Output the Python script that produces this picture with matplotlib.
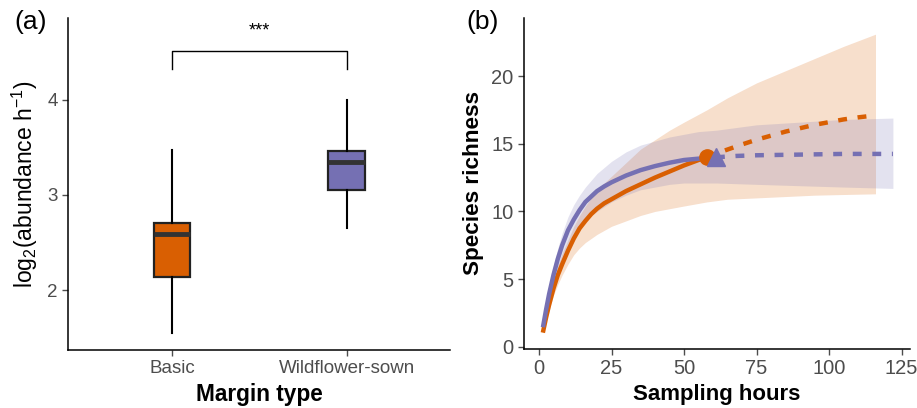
import numpy as np
import matplotlib
matplotlib.use('Agg')
import matplotlib.pyplot as plt

plt.rcParams['font.family'] = ['Liberation Sans', 'DejaVu Sans']
plt.rcParams['mathtext.fontset'] = 'custom'
plt.rcParams['mathtext.rm'] = 'Liberation Sans'
plt.rcParams['mathtext.it'] = 'Liberation Sans:italic'

# panel (a): box plot summaries
margin_types = ['Basic', 'Wildflower-sown']
box_low = [1.55, 2.65]
box_q1 = [2.14, 3.05]
box_med = [2.59, 3.35]
box_q3 = [2.70, 3.46]
box_high = [3.47, 4.00]
box_colors = ['#D95F02', '#7570B3']
sig_label = '***'

# panel (b): rarefaction / extrapolation curves
basic_obs_x = [1.5, 2.5, 3.5, 5, 6.5, 8, 10, 12, 14, 16, 18, 20, 22.5, 25, 27.5, 30, 35, 40, 45, 50, 55, 57.8]
basic_obs_y = [1.2, 2.2, 3.1, 4.3, 5.3, 6.1, 7.1, 8.0, 8.75, 9.3, 9.8, 10.2, 10.6, 10.9, 11.2, 11.5, 12.0, 12.5, 12.95, 13.4, 13.8, 14.0]
basic_ext_x = [57.8, 62, 66, 70, 75, 80, 85, 90, 95, 100, 105, 110, 116]
basic_ext_y = [14.0, 14.35, 14.65, 14.95, 15.3, 15.6, 15.9, 16.15, 16.4, 16.6, 16.8, 16.95, 17.1]
basic_ci_x = [1.5, 2.5, 3.5, 5, 6.5, 8, 10, 12, 14, 16, 18, 20, 25, 30, 35, 40, 45, 50, 57.8, 65, 75, 85, 95, 105, 116]
basic_ci_lo = [1.0, 1.9, 2.7, 3.8, 4.6, 5.3, 6.1, 6.8, 7.3, 7.7, 8.0, 8.3, 8.9, 9.3, 9.7, 10.0, 10.2, 10.4, 10.7, 10.9, 11.0, 11.1, 11.2, 11.25, 11.3]
basic_ci_hi = [1.5, 2.6, 3.6, 4.9, 6.0, 6.9, 7.9, 8.9, 9.7, 10.4, 11.0, 11.6, 12.6, 13.6, 14.6, 15.3, 16.0, 16.6, 17.5, 18.4, 19.5, 20.4, 21.3, 22.2, 23.1]

wild_obs_x = [1.5, 2.5, 3.5, 5, 6.5, 8, 10, 12, 14, 16, 18, 20, 22.5, 25, 27.5, 30, 35, 40, 45, 50, 55, 61]
wild_obs_y = [1.6, 2.8, 3.9, 5.3, 6.5, 7.5, 8.6, 9.4, 10.1, 10.7, 11.1, 11.5, 11.85, 12.15, 12.4, 12.65, 13.05, 13.35, 13.6, 13.8, 13.9, 14.0]
wild_ext_x = [61, 68, 75, 90, 105, 122]
wild_ext_y = [14.0, 14.1, 14.15, 14.2, 14.25, 14.25]
wild_ci_x = [1.5, 2.5, 3.5, 5, 6.5, 8, 10, 12, 14, 16, 18, 20, 25, 30, 35, 40, 45, 50, 55, 61, 75, 90, 105, 122]
wild_ci_lo = [1.2, 2.3, 3.3, 4.5, 5.6, 6.5, 7.4, 8.1, 8.7, 9.3, 9.7, 10.0, 10.7, 11.2, 11.6, 11.8, 12.0, 12.1, 12.1, 12.1, 12.0, 11.9, 11.8, 11.7]
wild_ci_hi = [2.0, 3.3, 4.5, 6.0, 7.3, 8.4, 9.6, 10.5, 11.2, 11.8, 12.3, 12.8, 13.7, 14.4, 14.9, 15.2, 15.5, 15.7, 15.9, 16.0, 16.4, 16.6, 16.8, 16.9]

orange = '#D95F02'
purple = '#7570B3'
tick_col = '#4D4D4D'

fig = plt.figure(figsize=(9.17, 4.08), dpi=100)
ax1 = fig.add_axes([0.0742, 0.142, 0.4165, 0.814])
ax2 = fig.add_axes([0.5714, 0.1446, 0.421, 0.8114])

for ax in (ax1, ax2):
    ax.spines['top'].set_visible(False)
    ax.spines['right'].set_visible(False)
    ax.spines['left'].set_linewidth(1.1)
    ax.spines['bottom'].set_linewidth(1.1)
    ax.tick_params(colors=tick_col, labelcolor=tick_col, length=4, width=1)
ax1.tick_params(labelsize=13.5)
ax2.tick_params(labelsize=14.5)

# ---- (a)
stats = []
for i in range(2):
    stats.append({'med': box_med[i], 'q1': box_q1[i], 'q3': box_q3[i],
                  'whislo': box_low[i], 'whishi': box_high[i], 'fliers': []})
bp = ax1.bxp(stats, positions=[1, 2], widths=0.21, patch_artist=True, showcaps=False,
             boxprops=dict(edgecolor='#222222', linewidth=1.6),
             whiskerprops=dict(color='black', linewidth=1.5),
             medianprops=dict(color='#333333', linewidth=3.5))
for patch, c in zip(bp['boxes'], box_colors):
    patch.set_facecolor(c)

ax1.plot([1, 1, 2, 2], [4.32, 4.51, 4.51, 4.32], color='black', linewidth=1)
ax1.text(1.5, 4.72, sig_label, ha='center', va='center', fontsize=13)

ax1.set_xlim(0.406, 2.59)
ax1.set_ylim(1.37, 4.86)
ax1.set_xticks([1, 2])
ax1.set_xticklabels(margin_types)
ax1.set_yticks([2, 3, 4])
ax1.set_xlabel('Margin type', fontsize=16.3, fontweight='bold', color='black', labelpad=4)
ax1.set_ylabel('log$_2$(abundance h$^{-1}$)', fontsize=16.5, color='black', labelpad=5)
fig.text(0.016, 0.946, '(a)', fontsize=19, va='center')

# ---- (b)
ax2.fill_between(basic_ci_x, basic_ci_lo, basic_ci_hi, color=orange, alpha=0.2, linewidth=0)
ax2.fill_between(wild_ci_x, wild_ci_lo, wild_ci_hi, color=purple, alpha=0.2, linewidth=0)

ax2.plot(basic_obs_x, basic_obs_y, color=orange, linewidth=3.2)
ax2.plot(wild_obs_x, wild_obs_y, color=purple, linewidth=3.2)
ax2.plot(basic_ext_x, basic_ext_y, color=orange, linewidth=3.2, linestyle=(0, (2, 2.4)))
ax2.plot(wild_ext_x, wild_ext_y, color=purple, linewidth=3.2, linestyle=(0, (2, 2.4)))
ax2.plot(basic_obs_x[-1], basic_obs_y[-1], 'o', color=orange, markersize=11)
ax2.plot(wild_obs_x[-1], wild_obs_y[-1], '^', color=purple, markersize=12.5)

ax2.set_xlim(-5.17, 127.9)
ax2.set_ylim(-0.17, 24.3)
ax2.set_xticks([0, 25, 50, 75, 100, 125])
ax2.set_yticks([0, 5, 10, 15, 20])
ax2.set_xlabel('Sampling hours', fontsize=16, fontweight='bold', color='black', labelpad=4)
ax2.set_ylabel('Species richness', fontsize=16.2, fontweight='bold', color='black', labelpad=5)
fig.text(0.509, 0.946, '(b)', fontsize=19, va='center')

fig.savefig('out.png', dpi=100)
